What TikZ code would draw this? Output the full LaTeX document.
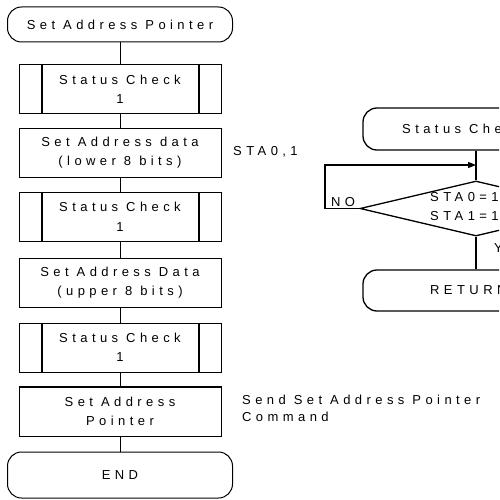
\documentclass[tikz,border=0pt]{standalone}
\usepackage{fontspec}
\setmainfont{Liberation Sans}[LetterSpace=34]
\usetikzlibrary{shapes.geometric,arrows.meta}
\begin{document}
\begin{tikzpicture}[x=1pt,y=-1pt,
  every node/.style={font=\fontsize{13}{19.5}\selectfont, inner sep=0pt},
  term/.style={draw, line width=1pt, rounded corners=14pt, minimum width=225pt},
  rterm/.style={draw, line width=1.3pt, rounded corners=14pt, minimum width=226pt},
  proc/.style={draw, line width=1pt, minimum width=202pt, minimum height=49pt, align=center},
  bar/.style={line width=2pt},
  conn/.style={line width=1pt},
  rconn/.style={line width=1.3pt},
  note/.style={anchor=west, align=left}]
\clip (0,0) rectangle (499,500);
\fill[white] (0,0) rectangle (499,500);
% left flowchart
\node[term, minimum height=35pt] (t1) at (120,24.5) {Set Address Pointer};
\node[proc] (s1) at (120,89.5) {Status Check\\1};
\node[proc] (p1) at (120,152.5) {Set Address data\\(lower 8 bits)};
\node[proc] (s2) at (120,217) {Status Check\\1};
\node[proc] (p2) at (120,282.5) {Set Address Data\\(upper 8 bits)};
\node[proc] (s3) at (120,347.5) {Status Check\\1};
\node[proc] (p3) at (120,411.5) {Set Address\\Pointer};
\node[term, minimum height=46pt] (t2) at (120,475) {END};
\foreach \n in {s1,s2,s3}{
  \draw[bar] ([xshift=23pt]\n.north west) -- ([xshift=23pt]\n.south west);
  \draw[bar] ([xshift=-23pt]\n.north east) -- ([xshift=-23pt]\n.south east);
}
\draw[bar] (p3.north west) -- (p3.north east);
\draw[conn] (t1) -- (s1);
\draw[conn] (s1) -- (p1);
\draw[conn] (p1) -- (s2);
\draw[conn] (s2) -- (p2);
\draw[conn] (p2) -- (s3);
\draw[conn] (s3) -- (p3);
\draw[conn] (p3) -- (t2);
\node[note] (a1) at (233,152) {STA0,1};
\node[anchor=north west, align=left, font=\fontsize{13}{16.5}\selectfont] (a2) at (242,395) {Send Set Address Pointer\\Command};
% right flowchart
\node[rterm, minimum height=42pt] (t3) at (476,129) {};
\node[note] (t3txt) at (402,128.5) {Status Check};
\node[diamond, draw, line width=1.3pt, minimum width=232pt, minimum height=55pt, shape aspect=4.2] (d) at (476,208.5) {};
\node[note] (dtxt) at (430,206.5) {STA0=1\\STA1=1};
\node[rterm, minimum height=41pt] (t4) at (476,290.5) {};
\node[note] (t4txt) at (430,290) {RETURN};
\coordinate (lpc) at (325,165);
\coordinate (ae) at (476,165);
\draw[rconn] (t3) -- (d);
\draw[rconn] (d) -- (t4);
\draw[rconn, -{Triangle[length=8pt,width=6pt]}] (d.west) -| (lpc) -- (ae);
\node[anchor=base west] (no) at (331,206) {NO};
\node[note] (yes) at (494,248) {YES};
\end{tikzpicture}
\end{document}
